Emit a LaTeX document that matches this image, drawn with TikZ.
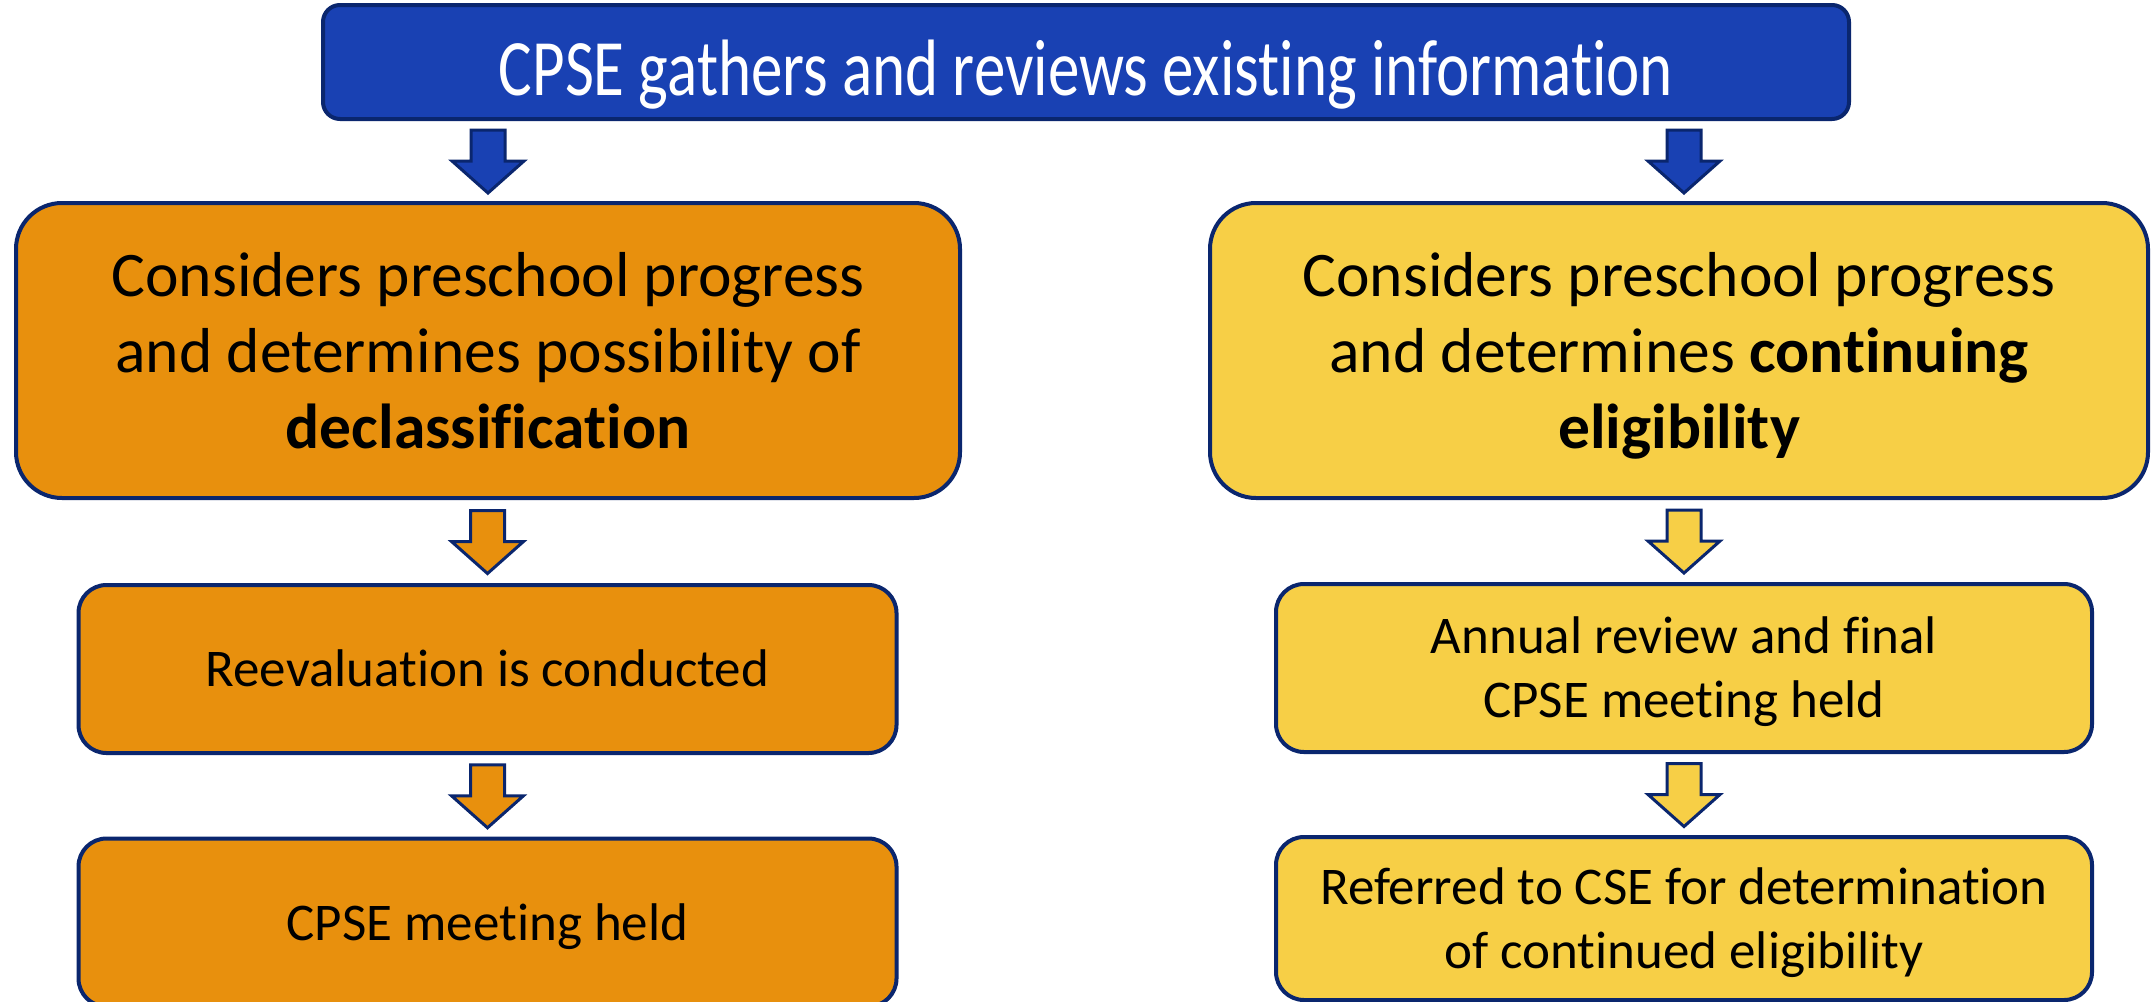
\documentclass[tikz,border=0pt]{standalone}
\usepackage{fontspec}
\setmainfont{Carlito}[Ligatures=NoCommon]
\usepackage{graphicx}
\usetikzlibrary{calc}
\definecolor{navyB}{RGB}{10,38,110}
\definecolor{blueF}{RGB}{25,65,179}
\definecolor{orangeF}{RGB}{232,144,13}
\definecolor{yellowF}{RGB}{247,207,70}
\newcommand{\BlockArrowDown}[2]{%
  \draw[#1] ($(#2)+(-17,-31)$) -- ($(#2)+(17,-31)$) -- ($(#2)+(17,0)$) -- ($(#2)+(36,0)$) -- ($(#2)+(0,32)$) -- ($(#2)+(-36,0)$) -- ($(#2)+(-17,0)$) -- cycle;}
\begin{document}
\begin{tikzpicture}[x=1pt,y=-1pt,
  box/.style={draw=navyB, line width=4pt, rounded corners=#1, inner sep=0pt, outer sep=0pt, align=center, text=black},
  bigbox/.style={box=46pt, minimum width=944pt, minimum height=295pt, font=\fontsize{63.5}{76.2}\selectfont},
  smallbox/.style={box=28pt, minimum width=818pt, minimum height=168pt, font=\fontsize{53}{64}\selectfont},
  blockarrow/.style={draw=navyB, line width=3pt, line join=miter, fill=#1}]
\useasboundingbox (0,0) rectangle (2151,1001);
\clip (0,0) rectangle (2151,1001);
\fill[white] (0,0) rectangle (2151,1001);

\node[box=17pt, fill=blueF, minimum width=1526pt, minimum height=114pt, text=white, font=\fontsize{63}{76}\selectfont] (top) at (1086,62)
  {\rule{0pt}{90pt}\scalebox{1}[1.27]{CPSE gathers and reviews existing information}\rule[-24pt]{0pt}{24pt}};

\node[bigbox, fill=orangeF] (L1) at (488,350.5)
  {\rule{0pt}{62pt}Considers preschool progress\\and determines possibility of\\\textbf{declassification}\rule[-18pt]{0pt}{18pt}};
\node[bigbox, fill=yellowF, minimum width=938pt] (R1) at (1679,350.5)
  {\rule{0pt}{62pt}Considers preschool progress\\and determines \textbf{continuing}\\\textbf{eligibility}\rule[-18pt]{0pt}{18pt}};

\node[smallbox, fill=orangeF] (L2) at (487.5,669)
  {\rule{0pt}{52pt}Reevaluation is conducted\rule[-17pt]{0pt}{17pt}};
\node[smallbox, fill=orangeF] (L3) at (487.5,922.5)
  {\rule{0pt}{52pt}CPSE meeting held\rule[-17pt]{0pt}{17pt}};
\node[smallbox, fill=yellowF, minimum width=816pt] (R2) at (1684,668)
  {\rule{0pt}{52pt}Annual review and final\\CPSE meeting held\rule[-17pt]{0pt}{17pt}};
\node[smallbox, fill=yellowF, minimum width=816pt, minimum height=163pt] (R3) at (1684,918.5)
  {\rule{0pt}{52pt}Referred to CSE for determination\\of continued eligibility\rule[-17pt]{0pt}{17pt}};

\coordinate (a1) at ($(top.south -| L1.north)!0.5!(L1.north)$);
\coordinate (a2) at ($(top.south -| R2.north)!0.5!(R1.north -| R2.north)$);
\coordinate (a3) at ($(L1.south -| L2.north)!0.5!(L2.north)$);
\coordinate (a4) at ($(L2.south)!0.5!(L3.north)$);
\coordinate (a5) at ($(R1.south -| R2.north)!0.5!(R2.north)$);
\coordinate (a6) at ($(R2.south)!0.5!(R3.north)$);

\BlockArrowDown{blockarrow=blueF}{a1}
\BlockArrowDown{blockarrow=blueF}{a2}
\BlockArrowDown{blockarrow=orangeF}{a3}
\BlockArrowDown{blockarrow=orangeF}{a4}
\BlockArrowDown{blockarrow=yellowF}{a5}
\BlockArrowDown{blockarrow=yellowF}{a6}
\end{tikzpicture}
\end{document}
